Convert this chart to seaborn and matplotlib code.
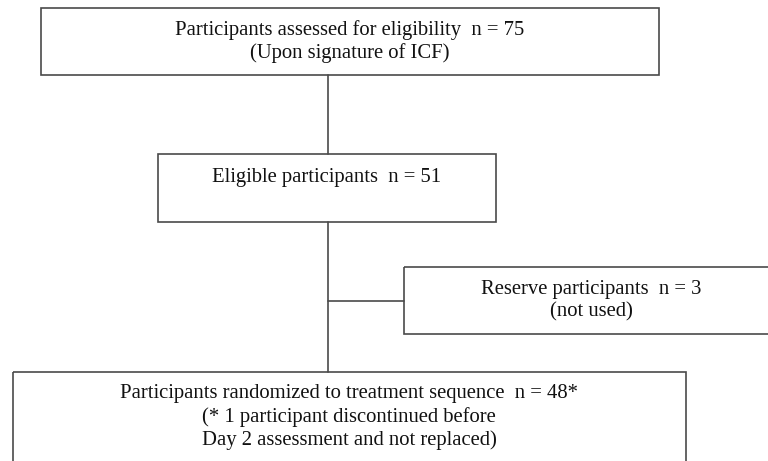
import matplotlib
matplotlib.use("Agg")
import matplotlib.pyplot as plt
from matplotlib.patches import Rectangle
import seaborn as sns

# flowchart content
box_names = ["assessed", "eligible", "reserve", "randomized"]
box_lines = [
    ["Participants assessed for eligibility  n = 75", "(Upon signature of ICF)"],
    ["Eligible participants  n = 51"],
    ["Reserve participants  n = 3", "(not used)"],
    ["Participants randomized to treatment sequence  n = 48*",
     "(* 1 participant discontinued before",
     "Day 2 assessment and not replaced)"],
]

# layout in pixel coords (x0, y0, x1, y1), y grows downward
box_xy = [(41, 8, 659, 75), (158, 154, 496, 222), (404, 267, 778, 334), (13, 372, 686, 480)]
text_cx = [349.5, 327, 591, 349]
text_y = [[30, 53], [177], [289, 312], [393, 417, 440]]

line_col = "#4a4a4a"

sns.set_theme(style="white")
plt.rcParams['font.family'] = ['Liberation Serif', 'DejaVu Serif']

fig = plt.figure(figsize=(7.68, 4.61), dpi=100)
ax = fig.add_axes([0, 0, 1, 1])
ax.set_xlim(0, 768)
ax.set_ylim(461, 0)
ax.axis("off")

for (x0, y0, x1, y1), lines, cx, ys in zip(box_xy, box_lines, text_cx, text_y):
    ax.add_patch(Rectangle((x0, y0), x1 - x0, y1 - y0, fill=False,
                           edgecolor=line_col, linewidth=1.2, clip_on=True))
    for txt, ty in zip(lines, ys):
        ax.text(cx, ty, txt, ha="center", va="center", fontsize=14.9, color="#111111")

# connectors
ax.plot([328, 328], [75, 154], color=line_col, lw=1.2)
ax.plot([328, 328], [222, 372], color=line_col, lw=1.2)
ax.plot([328, 404], [301, 301], color=line_col, lw=1.2)

fig.savefig("out.png", dpi=100, facecolor="white")
